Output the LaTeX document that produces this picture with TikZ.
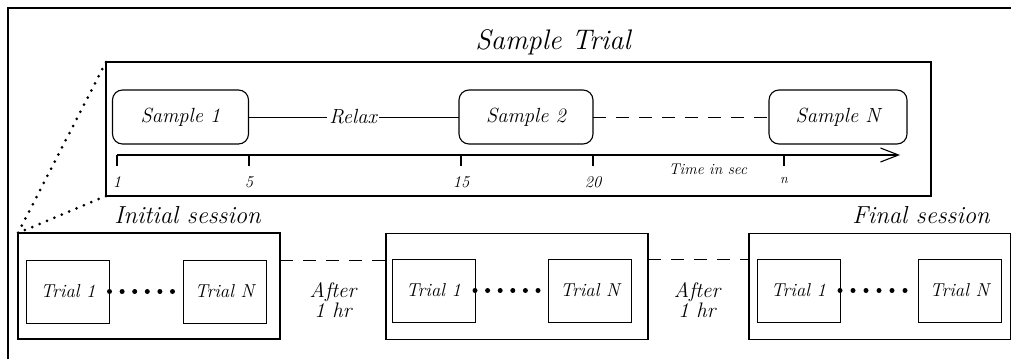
\documentclass[tikz,border=0pt]{standalone}
\usepackage{fontspec}
\usetikzlibrary{arrows.meta}
\begin{document}
\begin{tikzpicture}[x=1pt,y=-1pt,
  samplebox/.style={draw, outer sep=0pt, rounded corners=10pt, line width=1.1pt, minimum width=136pt, minimum height=54pt, font=\fontsize{20.5}{24}\selectfont\itshape},
  sessbox/.style={draw, outer sep=0pt, line width=1.2pt, minimum width=262pt, minimum height=106pt},
  trialbox/.style={draw, outer sep=0pt, line width=1pt, minimum width=83pt, minimum height=63pt, font=\fontsize{18.7}{22}\selectfont\itshape},
  ticklbl/.style={font=\fontsize{16.5}{19}\selectfont\itshape},
  conn/.style={line width=1pt},
  dashconn/.style={line width=1pt, dash pattern=on 13pt off 10pt},
  dotconn/.style={line width=5pt, line cap=round, dash pattern=on 0pt off 12.6pt},
  zoomline/.style={line width=3pt, line cap=round, dash pattern=on 0pt off 8pt},
  lbl/.style={font=\fontsize{21}{18}\selectfont\itshape, align=center}
]
\useasboundingbox (0,0) rectangle (1011,359);
% outer frame
\draw[line width=2.6pt] (8,359) -- (8,8) -- (1013,8);

% Sample trial box
\node[draw, outer sep=0pt, line width=1.2pt, minimum width=825pt, minimum height=134pt] (st) at (518.5,129) {};
\node[font=\fontsize{28.3}{32}\selectfont\itshape] (sttitle) at (553,42) {Sample Trial};

\node[samplebox] (s1) at (180.5,117) {Sample 1};
\node[samplebox, minimum width=134pt] (s2) at (526,117) {Sample 2};
\node[samplebox, minimum width=138pt] (sN) at (838,117) {Sample N};
\node[font=\fontsize{20.5}{24}\selectfont\itshape, inner sep=2pt] (relax) at (353,117) {Relax};
\draw[conn] (s1.east) -- (relax.west);
\draw[conn] (relax.east) -- (s2.west);
\draw[dashconn] (s2.east) -- (sN.west);

% time axis
\coordinate (ax0) at (117,155);
\coordinate (ax1) at (900,155);
\draw[line width=1.1pt, -{Straight Barb[length=18pt,width=14pt,line width=1.1pt]}] (ax0) -- (ax1);
\draw[line width=1.1pt] (117,155) -- (117,166);
\draw[line width=1.1pt] (249,155) -- (249,166);
\draw[line width=1.1pt] (461,155) -- (461,166);
\draw[line width=1.1pt] (593,155) -- (593,166);
\draw[line width=1.1pt] (784,155) -- (784,166);
\node[ticklbl] (ticka) at (117,182) {1};
\node[ticklbl] (tickb) at (249,182) {5};
\node[ticklbl] (tickc) at (461,182) {15};
\node[ticklbl] (tickd) at (593,182) {20};
\node[font=\fontsize{14}{16}\selectfont\itshape] (tickn) at (784,180) {n};
\node[font=\fontsize{15.5}{18}\selectfont\itshape] (timelbl) at (708,169) {Time in sec};

% sessions
\node[font=\fontsize{24.6}{28}\selectfont\itshape] (initlbl) at (187.5,215) {Initial session};
\node[font=\fontsize{24.6}{28}\selectfont\itshape] (finallbl) at (921,215) {Final session};

\node[sessbox] (se1) at (149,286) {};
\node[sessbox] (se2) at (517,286.5) {};
\node[sessbox] (se3) at (880,286.5) {};

\node[trialbox] (t11) at (68,291.5) {Trial 1};
\node[trialbox] (t1N) at (224.5,291.5) {Trial N};
\node[trialbox] (t21) at (433.5,290.5) {Trial 1};
\node[trialbox] (t2N) at (590,290.5) {Trial N};
\node[trialbox] (t31) at (798.5,290.5) {Trial 1};
\node[trialbox] (t3N) at (959.5,290.5) {Trial N};

\draw[dotconn] (t11.east) -- (t1N.west);
\draw[dotconn] (t21.east) -- (t2N.west);
\draw[dotconn, dash pattern=on 0pt off 13pt] (t31.east) -- (t3N.west);

\draw[dashconn] (se1.east |- t11.north) -- (se2.west |- t11.north);
\draw[dashconn] (se2.east |- t21.north) -- (se3.west |- t21.north);

\node[lbl] (after1) at (333,300) {After\\1 hr};
\node[lbl] (after2) at (697,300) {After\\1 hr};

% zoom lines
\draw[zoomline] (st.north west) -- (se1.north west);
\draw[zoomline] (st.south west) -- (se1.north west);
\end{tikzpicture}
\end{document}
